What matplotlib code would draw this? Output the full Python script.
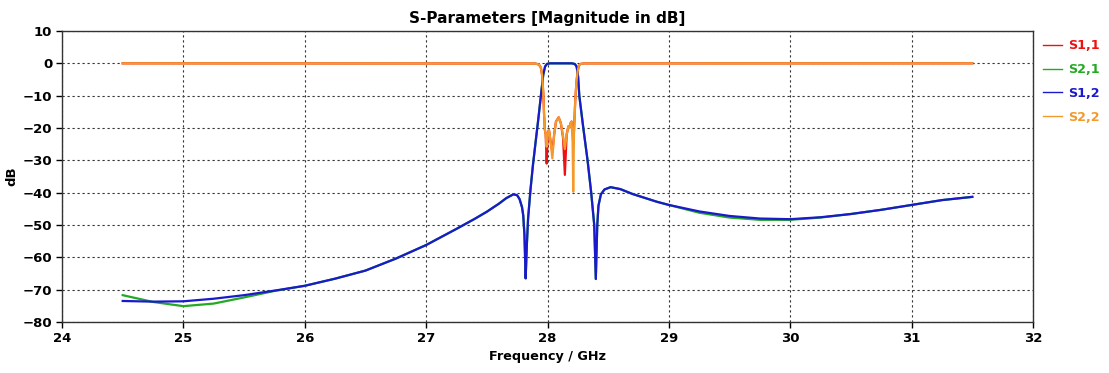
import matplotlib
matplotlib.use("Agg")
import matplotlib.pyplot as plt

# Transmission (S2,1 / S1,2) sample frequencies in GHz and magnitudes in dB
freq_t = [24.5, 24.75, 25.0, 25.25, 25.5, 25.75, 26.0, 26.25, 26.5, 26.75,
          27.0, 27.25, 27.4, 27.5, 27.6, 27.66, 27.72, 27.75, 27.77, 27.79, 27.80,
          27.81, 27.82, 27.83, 27.84, 27.86, 27.88, 27.90, 27.925, 27.95,
          27.965, 27.98, 27.995, 28.02, 28.2, 28.225, 28.24, 28.252, 28.262,
          28.295, 28.33, 28.36, 28.385, 28.398, 28.41, 28.42, 28.44, 28.47,
          28.52, 28.6, 28.7, 28.8, 28.9, 29.0, 29.25, 29.5, 29.75, 30.0,
          30.25, 30.5, 30.75, 31.0, 31.25, 31.5]
s12 = [-73.5, -73.7, -73.6, -72.8, -71.7, -70.3, -68.8, -66.6, -64.1, -60.4,
       -56.2, -51.2, -48.1, -45.9, -43.4, -41.7, -40.5, -40.8, -42.0, -44.5, -47.0,
       -53.0, -66.5, -56.0, -48.0, -39.0, -31.5, -25.0, -17.0, -8.5,
       -3.5, -1.0, -0.2, 0.0, 0.0, -0.2, -1.0, -4.0, -10.0,
       -20.0, -30.0, -40.0, -50.0, -66.7, -50.0, -44.0, -40.5, -39.0,
       -38.3, -38.9, -40.4, -41.6, -42.8, -43.8, -45.8, -47.2, -48.0, -48.2,
       -47.6, -46.6, -45.3, -43.8, -42.3, -41.3]
s21 = [-71.7, -73.8, -75.1, -74.3, -72.4, -70.4, -68.8, -66.6, -64.1, -60.4,
       -56.2, -51.2, -48.1, -45.9, -43.4, -41.7, -40.5, -40.8, -42.0, -44.5, -47.0,
       -53.0, -66.5, -56.0, -48.0, -39.0, -31.5, -25.0, -17.0, -8.5,
       -3.5, -1.0, -0.2, 0.0, 0.0, -0.2, -1.0, -4.0, -10.0,
       -20.0, -30.0, -40.0, -50.0, -66.7, -50.0, -44.0, -40.5, -39.0,
       -38.3, -38.9, -40.4, -41.6, -42.8, -43.8, -46.2, -47.7, -48.4, -48.4,
       -47.7, -46.6, -45.3, -43.8, -42.3, -41.3]

# Reflection (S1,1 / S2,2) sample frequencies in GHz and magnitudes in dB
freq_r = [24.5, 27.90, 27.93, 27.945, 27.955, 27.965, 27.972, 27.978, 27.985,
          27.993, 28.003, 28.012, 28.025, 28.04, 28.055, 28.07, 28.092, 28.11,
          28.128, 28.143, 28.158, 28.172, 28.18, 28.19, 28.198, 28.206, 28.212,
          28.218, 28.228, 28.238, 28.248, 28.258, 28.27, 28.3, 31.5]
s11 = [0.0, -0.05, -0.4, -1.3, -3.5, -9.0, -16.0, -20.5, -22.0,
       -31.0, -21.5, -20.6, -24.0, -27.5, -22.0, -18.0, -16.7, -18.5,
       -23.0, -34.5, -22.0, -19.5, -20.0, -18.5, -18.0, -21.0, -25.0,
       -21.0, -12.0, -6.0, -2.5, -0.8, -0.2, -0.02, 0.0]
s22 = [0.0, -0.05, -0.4, -1.3, -3.5, -9.0, -16.0, -20.5, -22.0,
       -25.8, -21.5, -20.6, -24.0, -29.4, -22.0, -18.0, -16.7, -18.5,
       -22.5, -26.5, -22.0, -19.5, -20.0, -18.5, -18.0, -22.0, -39.7,
       -22.0, -12.0, -6.0, -2.5, -0.8, -0.2, -0.02, 0.0]

labels = ["S1,1", "S2,1", "S1,2", "S2,2"]
colors = ["#ee1111", "#22aa22", "#1a1acc", "#f39a2a"]

x_ticks = [24, 25, 26, 27, 28, 29, 30, 31, 32]
y_ticks = [10, 0, -10, -20, -30, -40, -50, -60, -70, -80]

plt.rcParams["font.family"] = ["DejaVu Sans"]
plt.rcParams["font.weight"] = "bold"

fig = plt.figure(figsize=(11.09, 3.73), dpi=100)
ax = fig.add_axes([62 / 1109, 1 - 322 / 373, (1033 - 62) / 1109, (322 - 31) / 373])

series = [(freq_r, s11), (freq_t, s21), (freq_t, s12), (freq_r, s22)]
for (fx, fy), lab, col in zip(series, labels, colors):
    ax.plot(fx, fy, color=col, lw=1.6, label=lab, solid_joinstyle="round")

ax.set_xlim(24, 32)
ax.set_ylim(-80, 10)
ax.set_xticks(x_ticks)
ax.set_yticks(y_ticks)
ax.tick_params(axis="both", labelsize=9.5, length=4, width=1, pad=3,
               top=False, right=False)
for lbl in ax.get_xticklabels() + ax.get_yticklabels():
    lbl.set_fontweight("bold")
ax.grid(True, color="#333333", linestyle=(0, (2, 2.5)), linewidth=0.8)
for sp in ax.spines.values():
    sp.set_color("#333333")
    sp.set_linewidth(1.0)

ax.set_title("S-Parameters [Magnitude in dB]", fontsize=11, fontweight="bold", pad=6)
ax.set_xlabel("Frequency / GHz", fontsize=9.2, fontweight="bold", labelpad=4)
ax.set_ylabel("dB", fontsize=9.5, fontweight="bold", labelpad=3)

leg = ax.legend(loc="upper left", bbox_to_anchor=(1.003, 0.996), frameon=False,
                handlelength=1.5, handletextpad=0.45, labelspacing=0.85,
                prop={"size": 9.2, "weight": "bold"}, borderaxespad=0.25,
                borderpad=0.3)
for txt, col in zip(leg.get_texts(), colors):
    txt.set_color(col)
for ln in leg.get_lines():
    ln.set_linewidth(1.0)

fig.savefig("out.png", dpi=100)
